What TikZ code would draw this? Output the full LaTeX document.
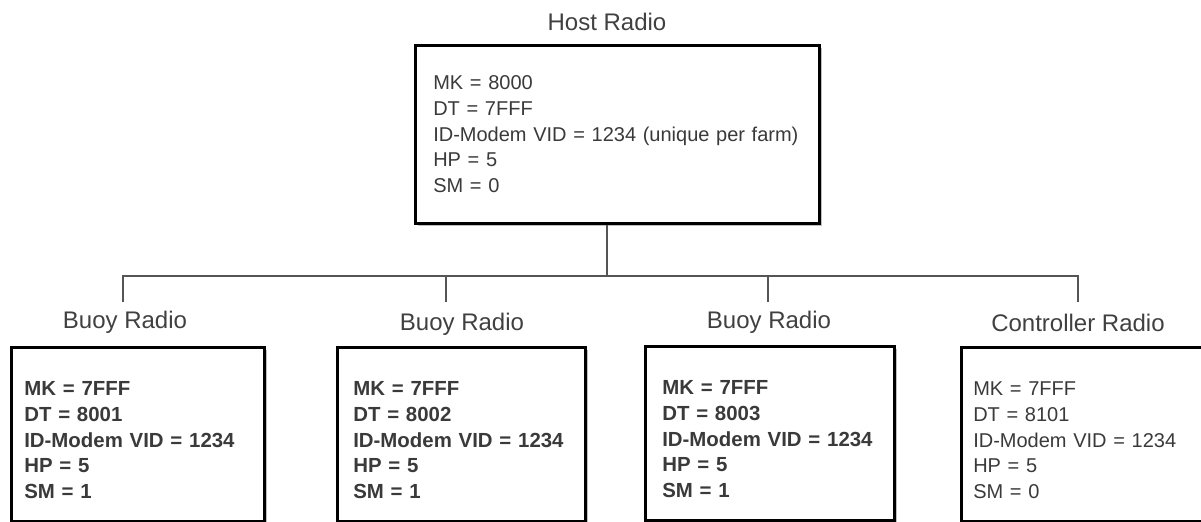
\documentclass[tikz,border=0pt]{standalone}
\usepackage{fontspec}
\setmainfont{Liberation Sans}
\usetikzlibrary{shadows}

\tikzset{
  radiobox/.style={draw=black, fill=white, line width=1.3pt, rectangle, anchor=north west, align=left, minimum height=87pt, text={rgb,255:red,58;green,58;blue,58}, font=\fontsize{10}{12.9}\selectfont, drop shadow={shadow xshift=1.4pt, shadow yshift=-1.4pt, fill=black!50}},
  lowbox/.style={radiobox, execute at begin node={\mbox{}\\}},
  boldbox/.style={lowbox, font=\fontsize{10.2}{12.9}\selectfont\bfseries},
  radiolabel/.style={text={rgb,255:red,64;green,64;blue,64}, font=\fontsize{12}{14}\selectfont, inner xsep=0pt, inner ysep=4pt, anchor=north},
  wire/.style={draw={rgb,255:red,85;green,85;blue,85}, line width=0.6pt}
}

\begin{document}
\begin{tikzpicture}[x=0.5pt, y=-0.5pt]
    \useasboundingbox (0,0) rectangle (1201,522);
    \clip (0,0) rectangle (1201,522);

    \node[radiolabel, anchor=base] (lblHost) at (607,30.5) {Host Radio};
    \node[radiobox, inner xsep=9pt, text width=184pt, minimum height=89pt] (ndHost) at (414,44) {MK = 8000\\DT = 7FFF\\ID-Modem VID = 1234 (unique per farm)\\HP = 5\\SM = 0};

    \coordinate (bus) at (607,276);
    \coordinate (tapBuoyA) at (123,302);
    \coordinate (tapBuoyB) at (446,302);
    \coordinate (tapBuoyC) at (768,302);
    \coordinate (tapCtrl) at (1078,302);

    \node[radiolabel] (lblBuoyA) at (125,303) {Buoy Radio};
    \node[boldbox, inner xsep=6.5pt, text width=113.5pt] (ndBuoyA) at (10,346) {MK = 7FFF\\DT = 8001\\ID-Modem VID = 1234\\HP = 5\\SM = 1};

    \node[radiolabel] (lblBuoyB) at (462,305) {Buoy Radio};
    \node[boldbox, inner xsep=8pt, text width=108pt] (ndBuoyB) at (336,346) {MK = 7FFF\\DT = 8002\\ID-Modem VID = 1234\\HP = 5\\SM = 1};

    \node[radiolabel] (lblBuoyC) at (769,303) {Buoy Radio};
    \node[boldbox, inner xsep=8.5pt, text width=107.5pt] (ndBuoyC) at (644,345) {MK = 7FFF\\DT = 8003\\ID-Modem VID = 1234\\HP = 5\\SM = 1};

    \node[radiolabel] (lblCtrl) at (1078,306) {Controller Radio};
    \node[lowbox, inner xsep=6pt, text width=114pt] (ndCtrl) at (960,346) {MK = 7FFF\\DT = 8101\\ID-Modem VID = 1234\\HP = 5\\SM = 0};

    \draw[wire] (ndHost.south -| bus) -- (bus);
    \draw[wire] (bus) -| (tapBuoyA);
    \draw[wire] (bus) -| (tapBuoyB);
    \draw[wire] (bus) -| (tapBuoyC);
    \draw[wire] (bus) -| (tapCtrl);
\end{tikzpicture}
\end{document}
